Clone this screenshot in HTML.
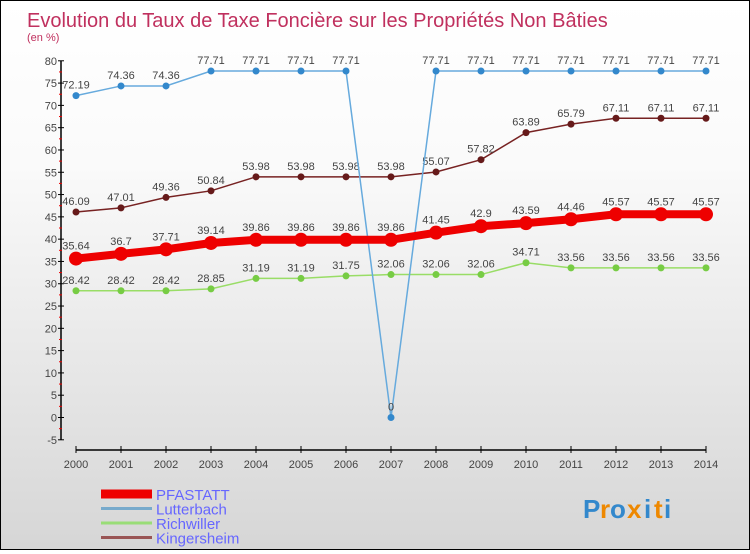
<!DOCTYPE html>
<html><head><meta charset="utf-8"><style>
html,body{margin:0;padding:0}
body{width:750px;height:550px;overflow:hidden;font-family:"Liberation Sans",sans-serif}
#wrap{position:relative;width:748px;height:548px;border:1px solid #000;background:linear-gradient(#fff,#fafafa 30%,#d6d6d6)}
</style></head><body>
<div id="wrap">
<svg id="chart" width="748" height="548"></svg>
</div>
<script>
const years=[2000,2001,2002,2003,2004,2005,2006,2007,2008,2009,2010,2011,2012,2013,2014];
const pfastatt=[35.64,36.7,37.71,39.14,39.86,39.86,39.86,39.86,41.45,42.9,43.59,44.46,45.57,45.57,45.57];
const lutterbach=[72.19,74.36,74.36,77.71,77.71,77.71,77.71,0,77.71,77.71,77.71,77.71,77.71,77.71,77.71];
const richwiller=[28.42,28.42,28.42,28.85,31.19,31.19,31.75,32.06,32.06,32.06,34.71,33.56,33.56,33.56,33.56];
const kingersheim=[46.09,47.01,49.36,50.84,53.98,53.98,53.98,53.98,55.07,57.82,63.89,65.79,67.11,67.11,67.11];
const yTicks=[-5,0,5,10,15,20,25,30,35,40,45,50,55,60,65,70,75,80];
const NS="http://www.w3.org/2000/svg";
const svg=document.getElementById('chart');
const X=i=>75+i*45;
const Y=v=>416.5-v*(379/85);
function el(t,a,p){const e=document.createElementNS(NS,t);for(const k in a)e.setAttribute(k,a[k]);(p||svg).appendChild(e);return e;}
function txt(s,a){const e=el('text',a);e.textContent=s;return e;}
let t=txt('Evolution du Taux de Taxe Foncière sur les Propriétés Non Bâties',{x:26,y:26,'font-size':20,fill:'#c0305e'});

t=txt('(en %)',{x:26,y:40,'font-size':11,fill:'#c0305e'});

let ax=el('line',{x1:60,y1:Y(80),x2:60,y2:Y(-5),stroke:'#000','stroke-width':1.5});

yTicks.forEach(v=>{
  el('line',{x1:57,x2:63,y1:Y(v),y2:Y(v),stroke:'#000'});
  if(v<80)el('line',{x1:58,x2:61,y1:Y(v+2.5),y2:Y(v+2.5),stroke:'#e00'});
  const l=txt(String(v),{x:56,y:Y(v)+4,'font-size':11,fill:'#444','text-anchor':'end'});
  
  
});
ax=el('line',{x1:X(0),x2:X(14),y1:449,y2:449,stroke:'#000','stroke-width':1.5});

years.forEach((y,i)=>{
  el('line',{x1:X(i),x2:X(i),y1:445,y2:452,stroke:'#000'});
  const l=txt(String(y),{x:X(i),y:467,'font-size':11,fill:'#444','text-anchor':'middle'});
  
  
});
function series(vals,color,dot,w,r,name,labelDy){
  const g=el('g',{});
  
  
  el('polyline',{points:vals.map((v,i)=>X(i)+','+Y(v)).join(' '),fill:'none',stroke:color,'stroke-width':w},g);
  vals.forEach((v,i)=>{
    const c=el('circle',{cx:X(i),cy:Y(v),r:r,fill:dot},g);
    
    
    const s=String(v).replace('.',',').replace(',','.');
    const l=txt(s,{x:X(i),y:Y(v)+labelDy,'font-size':11,fill:'#444','text-anchor':'middle'},g);
    
    
  });
}
series(richwiller,'#99dd66','#77cc44',1.5,3.5,'richwiller',-7);
series(kingersheim,'#772222','#661a1a',1.5,3.5,'kingersheim',-7);
series(lutterbach,'#66aadd','#3388cc',1.5,3.5,'lutterbach',-7);
series(pfastatt,'#ee0000','#ee0000',8,7,'pfastatt',-9);
const legend=[['PFASTATT','#ee0000',9],['Lutterbach','#77aacc',3],['Richwiller','#99dd77',3],['Kingersheim','#995555',3]];
legend.forEach((d,i)=>{
  const y=493+i*14.5;
  const g=el('g',{});
  
  
  el('line',{x1:100,x2:151,y1:y,y2:y,stroke:d[1],'stroke-width':d[2]},g);
  txt(d[0],{x:155,y:y+6,'font-size':15,fill:'#6666ff'},g);
});
const lg=el('g',{});


const letters=[['P','#3388cc'],['r','#ee8800'],['o','#3388cc'],['x','#ee8800'],['i','#3388cc'],['t','#ee8800'],['i','#3388cc']];
let lx=582;
letters.forEach(d=>{const e=txt(d[0],{x:lx,y:517,'font-size':26,'font-weight':'bold',fill:d[1]},lg);lx+=(d[0]=='i'||d[0]=='t'||d[0]=='r')?10:17;});
</script>
</body></html>
